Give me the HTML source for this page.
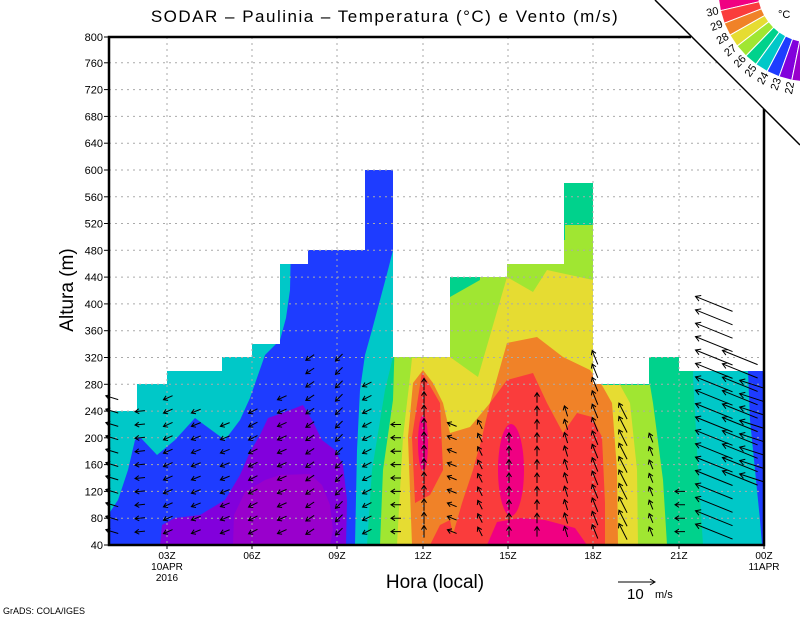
<!DOCTYPE html>
<html><head><meta charset="utf-8"><style>
html,body{margin:0;padding:0;background:#fff;}
svg{display:block;font-family:"Liberation Sans",sans-serif;}
</style></head><body>
<svg width="800" height="618" viewBox="0 0 800 618" xmlns="http://www.w3.org/2000/svg" xmlns:xlink="http://www.w3.org/1999/xlink">
<defs>
<path id="k0" transform="rotate(-163)" d="M-6.5,0H6.5M2.5,-2.5L6.5,0L2.5,2.5"/>
<path id="k1" transform="rotate(174)" d="M-5,0H5M1,-2.5L5,0L1,2.5"/>
<path id="k2" transform="rotate(156)" d="M-5,0H5M1,-2.5L5,0L1,2.5"/>
<path id="k3" transform="rotate(158)" d="M-5,0H5M1,-2.5L5,0L1,2.5"/>
<path id="k5" transform="rotate(153)" d="M-5,0H5M1,-2.5L5,0L1,2.5"/>
<path id="k7" transform="rotate(146)" d="M-5,0H5M1,-2.5L5,0L1,2.5"/>
<path id="k8" transform="rotate(135)" d="M-5,0H5M1,-2.5L5,0L1,2.5"/>
<path id="k10" transform="rotate(180)" d="M-5,0H5M1,-2.5L5,0L1,2.5"/>
<path id="k11" transform="rotate(-90)" d="M-6,0H6M2,-2.5L6,0L2,2.5"/>
<path id="k12" transform="rotate(-158)" d="M-5,0H5M1,-2.5L5,0L1,2.5"/>
<path id="k13" transform="rotate(-117)" d="M-5,0H5M1,-2.5L5,0L1,2.5"/>
<path id="k14" transform="rotate(-90)" d="M-5,0H5M1,-2.5L5,0L1,2.5"/>
<path id="k16" transform="rotate(-107)" d="M-5.5,0H5.5M1.5,-2.5L5.5,0L1.5,2.5"/>
<path id="k17" transform="rotate(-112)" d="M-7.5,0H7.5M3.5,-2.5L7.5,0L3.5,2.5"/>
<path id="k18" transform="rotate(-117)" d="M-9,0H9M5,-2.5L9,0L5,2.5"/>
<path id="k19" transform="rotate(-112)" d="M-5,0H5M1,-2.5L5,0L1,2.5"/>
<path id="k21" transform="rotate(-158)" d="M-20,0H20M15,-3L20,0L15,3"/>
<path id="k22" transform="rotate(-158)" d="M-19,0H19M14,-3L19,0L14,3"/>
<path id="k23" transform="rotate(-162)" d="M-13,0H13M8,-3L13,0L8,3"/>
</defs>
<rect width="800" height="618" fill="#fff"/>
<rect x="108" y="36" width="656" height="509" fill="#00c8c8"/>
<polygon fill="#1e3cff" points="108,545 108,515 118,500 128,470 135,440 140,437 157,455 175,440 195,418 225,440 240,420 250,398 258,375 265,355 280,340 286,318 290,290 293,150 393,150 393,250 388,270 380,300 372,330 365,355 360,390 357,450 355,545"/>
<polygon fill="#8200dc" points="160,545 162,525 175,518 200,515 225,500 240,475 250,452 260,435 268,418 285,412 303,405 312,420 322,440 335,450 343,465 347,500 346,545"/>
<polygon fill="#9900cc" points="233,545 234,515 245,492 265,480 280,475 310,474 322,485 330,505 333,530 330,545"/>
<polygon fill="#00d28c" points="367,545 372,470 385,390 393,357 393,150 700,150 693,377 697,450 703,545"/>
<polygon fill="#a0e632" points="380,545 383,470 393,400 396,300 450,297 480,280 480,240 565,240 565,225 593,225 593,385 650,385 653,403 663,480 667,545"/>
<polygon fill="#e6dc32" points="397,545 403,437 410,377 412,358 450,357 478,377 507,277 533,292 547,270 593,280 593,385 620,385 630,403 637,470 638,545"/>
<polygon fill="#f08228" points="412,545 408,437 413,383 423,370 433,383 443,403 450,433 470,427 490,403 507,343 537,337 563,357 590,370 603,387 612,403 617,470 618,545"/>
<polygon fill="#fa3c3c" points="412,437 422,372 440,403 443,470 430,495 415,503"/>
<polygon fill="#fa3c3c" points="450,545 462,503 473,470 482,437 490,403 507,380 533,373 547,403 563,433 577,413 592,417 602,437 605,503 605,545"/>
<polygon fill="#fa3c3c" points="430,545 440,525 450,520 455,545"/>
<ellipse cx="423" cy="443" rx="5" ry="28" fill="#f00082"/>
<ellipse cx="511" cy="470" rx="13" ry="46" fill="#f00082"/>
<polygon fill="#f00082" points="487,545 497,522 520,518 545,520 575,528 587,545"/>
<polygon fill="#1e3cff" points="748,371 764,371 764,545 762,545 760,520 755,470 750,420"/>
<path fill="#fff" d="M108,36 L108,411 L137,411 L137,384 L167,384 L167,371 L222,371 L222,357 L252,357 L252,344 L280,344 L280,264 L308,264 L308,250 L365,250 L365,170 L393,170 L393,357 L450,357 L450,277 L507,277 L507,264 L564,264 L564,183 L593,183 L593,384 L649,384 L649,357 L679,357 L679,371 L764,371 L764,36 Z"/>
<g stroke="#aaa" stroke-width="1" stroke-dasharray="2,4">
<line x1="109" y1="518.2" x2="764" y2="518.2"/><line x1="109" y1="491.4" x2="764" y2="491.4"/>
<line x1="109" y1="464.6" x2="764" y2="464.6"/><line x1="109" y1="437.8" x2="764" y2="437.8"/>
<line x1="109" y1="411.1" x2="764" y2="411.1"/><line x1="109" y1="384.3" x2="764" y2="384.3"/>
<line x1="109" y1="357.5" x2="764" y2="357.5"/><line x1="109" y1="330.7" x2="764" y2="330.7"/>
<line x1="109" y1="303.9" x2="764" y2="303.9"/><line x1="109" y1="277.1" x2="764" y2="277.1"/>
<line x1="109" y1="250.3" x2="764" y2="250.3"/><line x1="109" y1="223.5" x2="764" y2="223.5"/>
<line x1="109" y1="196.8" x2="764" y2="196.8"/><line x1="109" y1="170" x2="764" y2="170"/>
<line x1="109" y1="143.2" x2="764" y2="143.2"/><line x1="109" y1="116.4" x2="764" y2="116.4"/>
<line x1="109" y1="89.6" x2="744.6" y2="89.6"/><line x1="109" y1="62.8" x2="717.8" y2="62.8"/>
<line x1="167" y1="37" x2="167" y2="545"/><line x1="252" y1="37" x2="252" y2="545"/>
<line x1="337" y1="37" x2="337" y2="545"/><line x1="423" y1="37" x2="423" y2="545"/>
<line x1="508" y1="37" x2="508" y2="545"/><line x1="593" y1="37" x2="593" y2="545"/>
<line x1="679" y1="37" x2="679" y2="545"/>
</g>
<g stroke="#000" stroke-width="1" fill="none">
<g transform="translate(112,0)"><use href="#k0" y="531.6"/><use href="#k0" y="518.2"/><use href="#k0" y="504.8"/><use href="#k0" y="491.4"/><use href="#k0" y="478"/><use href="#k0" y="464.6"/><use href="#k0" y="451.2"/><use href="#k0" y="437.8"/><use href="#k0" y="424.5"/><use href="#k0" y="411.1"/><use href="#k0" y="397.7"/></g>
<g transform="translate(140,0)"><use href="#k1" y="531.6"/><use href="#k1" y="518.2"/><use href="#k1" y="504.8"/><use href="#k1" y="491.4"/><use href="#k1" y="478"/><use href="#k1" y="464.6"/><use href="#k1" y="451.2"/><use href="#k1" y="437.8"/><use href="#k1" y="424.5"/><use href="#k1" y="411.1"/></g>
<g transform="translate(168,0)"><use href="#k2" y="531.6"/><use href="#k2" y="518.2"/><use href="#k2" y="504.8"/><use href="#k2" y="491.4"/><use href="#k2" y="478"/><use href="#k2" y="464.6"/><use href="#k2" y="451.2"/><use href="#k2" y="437.8"/><use href="#k2" y="424.5"/><use href="#k2" y="411.1"/><use href="#k2" y="397.7"/></g>
<g transform="translate(196,0)"><use href="#k3" y="531.6"/><use href="#k3" y="518.2"/><use href="#k3" y="504.8"/><use href="#k3" y="491.4"/><use href="#k3" y="478"/><use href="#k3" y="464.6"/><use href="#k3" y="451.2"/><use href="#k3" y="437.8"/><use href="#k3" y="424.5"/><use href="#k3" y="411.1"/></g>
<g transform="translate(225,0)"><use href="#k3" y="531.6"/><use href="#k3" y="518.2"/><use href="#k3" y="504.8"/><use href="#k3" y="491.4"/><use href="#k3" y="478"/><use href="#k3" y="464.6"/><use href="#k3" y="451.2"/><use href="#k3" y="437.8"/><use href="#k3" y="424.5"/></g>
<g transform="translate(253,0)"><use href="#k5" y="531.6"/><use href="#k5" y="518.2"/><use href="#k5" y="504.8"/><use href="#k5" y="491.4"/><use href="#k5" y="478"/><use href="#k5" y="464.6"/><use href="#k5" y="451.2"/><use href="#k5" y="437.8"/><use href="#k5" y="424.5"/><use href="#k5" y="411.1"/></g>
<g transform="translate(282,0)"><use href="#k2" y="531.6"/><use href="#k2" y="518.2"/><use href="#k2" y="504.8"/><use href="#k2" y="491.4"/><use href="#k2" y="478"/><use href="#k2" y="464.6"/><use href="#k2" y="451.2"/><use href="#k2" y="437.8"/><use href="#k2" y="424.5"/><use href="#k2" y="411.1"/><use href="#k2" y="397.7"/></g>
<g transform="translate(310,0)"><use href="#k7" y="531.6"/><use href="#k7" y="518.2"/><use href="#k7" y="504.8"/><use href="#k7" y="491.4"/><use href="#k7" y="478"/><use href="#k7" y="464.6"/><use href="#k7" y="451.2"/><use href="#k7" y="437.8"/><use href="#k7" y="424.5"/><use href="#k7" y="411.1"/><use href="#k7" y="397.7"/><use href="#k7" y="384.3"/><use href="#k7" y="370.9"/><use href="#k7" y="357.5"/></g>
<g transform="translate(339,0)"><use href="#k8" y="531.6"/><use href="#k8" y="518.2"/><use href="#k8" y="504.8"/><use href="#k8" y="491.4"/><use href="#k8" y="478"/><use href="#k8" y="464.6"/><use href="#k8" y="451.2"/><use href="#k8" y="437.8"/><use href="#k8" y="424.5"/><use href="#k8" y="411.1"/><use href="#k8" y="397.7"/><use href="#k8" y="384.3"/><use href="#k8" y="370.9"/><use href="#k8" y="357.5"/></g>
<g transform="translate(367,0)"><use href="#k5" y="531.6"/><use href="#k5" y="518.2"/><use href="#k5" y="504.8"/><use href="#k5" y="491.4"/><use href="#k5" y="478"/><use href="#k5" y="464.6"/><use href="#k5" y="451.2"/><use href="#k5" y="437.8"/><use href="#k5" y="424.5"/><use href="#k5" y="411.1"/><use href="#k5" y="397.7"/><use href="#k5" y="384.3"/></g>
<g transform="translate(396,0)"><use href="#k10" y="531.6"/><use href="#k10" y="518.2"/><use href="#k10" y="504.8"/><use href="#k10" y="491.4"/><use href="#k10" y="478"/><use href="#k10" y="464.6"/><use href="#k10" y="451.2"/><use href="#k10" y="437.8"/><use href="#k10" y="424.5"/></g>
<g transform="translate(424,0)"><use href="#k11" y="531.6"/><use href="#k11" y="518.2"/><use href="#k11" y="504.8"/><use href="#k11" y="491.4"/><use href="#k11" y="478"/><use href="#k11" y="464.6"/><use href="#k11" y="451.2"/><use href="#k11" y="437.8"/><use href="#k11" y="424.5"/><use href="#k11" y="411.1"/><use href="#k11" y="397.7"/><use href="#k11" y="384.3"/></g>
<g transform="translate(452,0)"><use href="#k12" y="531.6"/><use href="#k12" y="518.2"/><use href="#k12" y="504.8"/><use href="#k12" y="491.4"/><use href="#k12" y="478"/><use href="#k12" y="464.6"/><use href="#k12" y="451.2"/><use href="#k12" y="437.8"/><use href="#k12" y="424.5"/></g>
<g transform="translate(480,0)"><use href="#k13" y="531.6"/><use href="#k13" y="518.2"/><use href="#k13" y="504.8"/><use href="#k13" y="491.4"/><use href="#k13" y="478"/><use href="#k13" y="464.6"/><use href="#k13" y="451.2"/><use href="#k13" y="437.8"/><use href="#k13" y="424.5"/></g>
<g transform="translate(509,0)"><use href="#k14" y="531.6"/><use href="#k14" y="518.2"/><use href="#k14" y="504.8"/><use href="#k14" y="491.4"/><use href="#k14" y="478"/><use href="#k14" y="464.6"/><use href="#k14" y="451.2"/><use href="#k14" y="437.8"/></g>
<g transform="translate(537,0)"><use href="#k14" y="531.6"/><use href="#k14" y="518.2"/><use href="#k14" y="504.8"/><use href="#k14" y="491.4"/><use href="#k14" y="478"/><use href="#k14" y="464.6"/><use href="#k14" y="451.2"/><use href="#k14" y="437.8"/><use href="#k14" y="424.5"/><use href="#k14" y="411.1"/><use href="#k14" y="397.7"/></g>
<g transform="translate(566,0)"><use href="#k16" y="531.6"/><use href="#k16" y="518.2"/><use href="#k16" y="504.8"/><use href="#k16" y="491.4"/><use href="#k16" y="478"/><use href="#k16" y="464.6"/><use href="#k16" y="451.2"/><use href="#k16" y="437.8"/><use href="#k16" y="424.5"/><use href="#k16" y="411.1"/></g>
<g transform="translate(595,0)"><use href="#k17" y="531.6"/><use href="#k17" y="518.2"/><use href="#k17" y="504.8"/><use href="#k17" y="491.4"/><use href="#k17" y="478"/><use href="#k17" y="464.6"/><use href="#k17" y="451.2"/><use href="#k17" y="437.8"/><use href="#k17" y="424.5"/><use href="#k17" y="411.1"/><use href="#k17" y="397.7"/><use href="#k17" y="384.3"/><use href="#k17" y="370.9"/><use href="#k17" y="357.5"/></g>
<g transform="translate(623,0)"><use href="#k18" y="531.6"/><use href="#k18" y="518.2"/><use href="#k18" y="504.8"/><use href="#k18" y="491.4"/><use href="#k18" y="478"/><use href="#k18" y="464.6"/><use href="#k18" y="451.2"/><use href="#k18" y="437.8"/><use href="#k18" y="424.5"/><use href="#k18" y="411.1"/></g>
<g transform="translate(651,0)"><use href="#k19" y="531.6"/><use href="#k19" y="518.2"/><use href="#k19" y="504.8"/><use href="#k19" y="491.4"/><use href="#k19" y="478"/><use href="#k19" y="464.6"/><use href="#k19" y="451.2"/><use href="#k19" y="437.8"/></g>
<g transform="translate(680,0)"><use href="#k10" y="531.6"/><use href="#k10" y="518.2"/><use href="#k10" y="504.8"/><use href="#k10" y="491.4"/></g>
<g transform="translate(714,0)"><use href="#k21" y="531.6"/><use href="#k21" y="518.2"/><use href="#k21" y="504.8"/><use href="#k21" y="491.4"/><use href="#k21" y="478"/><use href="#k21" y="464.6"/><use href="#k21" y="451.2"/><use href="#k21" y="437.8"/><use href="#k21" y="424.5"/><use href="#k21" y="411.1"/><use href="#k21" y="397.7"/><use href="#k21" y="384.3"/><use href="#k21" y="370.9"/><use href="#k21" y="357.5"/><use href="#k21" y="344.1"/><use href="#k21" y="330.7"/><use href="#k21" y="317.3"/><use href="#k21" y="303.9"/></g>
<g transform="translate(740,0)"><use href="#k22" y="478"/><use href="#k22" y="464.6"/><use href="#k22" y="451.2"/><use href="#k22" y="437.8"/><use href="#k22" y="424.5"/><use href="#k22" y="411.1"/><use href="#k22" y="397.7"/><use href="#k22" y="384.3"/><use href="#k22" y="370.9"/><use href="#k22" y="357.5"/></g>
<g transform="translate(752,0)"><use href="#k23" y="478"/><use href="#k23" y="464.6"/><use href="#k23" y="451.2"/><use href="#k23" y="437.8"/><use href="#k23" y="424.5"/><use href="#k23" y="411.1"/><use href="#k23" y="397.7"/><use href="#k23" y="384.3"/></g>
</g>
<polygon fill="#fff" points="655,0 800,0 800,145"/>
<line x1="655" y1="0" x2="800" y2="145" stroke="#000" stroke-width="1.5"/>
<path d="M691,37 L109,37 L109,545 L764,545 L764,109" fill="none" stroke="#000" stroke-width="2.5"/>
<g stroke="#000" stroke-width="1">
<line x1="104" y1="545" x2="109" y2="545"/><line x1="104" y1="518.2" x2="109" y2="518.2"/><line x1="104" y1="491.4" x2="109" y2="491.4"/><line x1="104" y1="464.6" x2="109" y2="464.6"/><line x1="104" y1="437.8" x2="109" y2="437.8"/><line x1="104" y1="411.1" x2="109" y2="411.1"/><line x1="104" y1="384.3" x2="109" y2="384.3"/><line x1="104" y1="357.5" x2="109" y2="357.5"/><line x1="104" y1="330.7" x2="109" y2="330.7"/><line x1="104" y1="303.9" x2="109" y2="303.9"/><line x1="104" y1="277.1" x2="109" y2="277.1"/><line x1="104" y1="250.3" x2="109" y2="250.3"/><line x1="104" y1="223.5" x2="109" y2="223.5"/><line x1="104" y1="196.8" x2="109" y2="196.8"/><line x1="104" y1="170" x2="109" y2="170"/><line x1="104" y1="143.2" x2="109" y2="143.2"/><line x1="104" y1="116.4" x2="109" y2="116.4"/><line x1="104" y1="89.6" x2="109" y2="89.6"/><line x1="104" y1="62.8" x2="109" y2="62.8"/><line x1="104" y1="37" x2="109" y2="37"/>
<line x1="167" y1="545" x2="167" y2="549"/><line x1="252" y1="545" x2="252" y2="549"/><line x1="337" y1="545" x2="337" y2="549"/><line x1="423" y1="545" x2="423" y2="549"/><line x1="508" y1="545" x2="508" y2="549"/><line x1="593" y1="545" x2="593" y2="549"/><line x1="679" y1="545" x2="679" y2="549"/><line x1="764" y1="545" x2="764" y2="549"/>
</g>
<g font-size="11" text-anchor="end" fill="#000">
<text x="103" y="549">40</text><text x="103" y="522.2">80</text><text x="103" y="495.4">120</text><text x="103" y="468.6">160</text><text x="103" y="441.8">200</text><text x="103" y="415.1">240</text><text x="103" y="388.3">280</text><text x="103" y="361.5">320</text><text x="103" y="334.7">360</text><text x="103" y="307.9">400</text><text x="103" y="281.1">440</text><text x="103" y="254.3">480</text><text x="103" y="227.5">520</text><text x="103" y="200.8">560</text><text x="103" y="174">600</text><text x="103" y="147.2">640</text><text x="103" y="120.4">680</text><text x="103" y="93.6">720</text><text x="103" y="66.8">760</text><text x="103" y="41">800</text>
</g>
<g font-size="10" text-anchor="middle" fill="#000">
<text x="167" y="559">03Z</text><text x="167" y="570">10APR</text><text x="167" y="581">2016</text>
<text x="252" y="559">06Z</text><text x="337" y="559">09Z</text><text x="423" y="559">12Z</text>
<text x="508" y="559">15Z</text><text x="593" y="559">18Z</text><text x="679" y="559">21Z</text>
<text x="764" y="559">00Z</text><text x="764" y="570">11APR</text>
</g>
<text x="385" y="22" font-size="17" text-anchor="middle" letter-spacing="1.5">SODAR – Paulinia – Temperatura (°C) e Vento (m/s)</text>
<text x="435" y="588" font-size="19" text-anchor="middle">Hora (local)</text>
<text transform="translate(73,290) rotate(-90)" font-size="19" text-anchor="middle">Altura (m)</text>
<line x1="618" y1="582" x2="655" y2="582" stroke="#000"/>
<path d="M650,579 L655,582 L650,585" stroke="#000" fill="none"/>
<text x="627" y="599" font-size="15">10</text><text x="655" y="598" font-size="11">m/s</text>
<text x="3" y="614" font-size="9">GrADS: COLA/IGES</text>
<g stroke="#fff" stroke-width="1">
<polygon fill="#f00082" points="758.2,-5.6 718.3,-2.3 720.4,10.7 759.3,1.7"/>
<polygon fill="#fa3c3c" points="759.3,1.7 720.4,10.7 724.2,23.3 761.5,8.8"/>
<polygon fill="#f08228" points="761.5,8.8 724.2,23.3 729.9,35.2 764.7,15.5"/>
<polygon fill="#e6dc32" points="764.7,15.5 729.9,35.2 737.1,46.1 768.8,21.7"/>
<polygon fill="#a0e632" points="768.8,21.7 737.1,46.1 745.9,56 773.7,27.3"/>
<polygon fill="#00d28c" points="773.7,27.3 745.9,56 755.9,64.4 779.4,32.1"/>
<polygon fill="#00c8c8" points="779.4,32.1 755.9,64.4 767.1,71.4 785.7,36"/>
<polygon fill="#1e3cff" points="785.7,36 767.1,71.4 779.1,76.7 792.6,39"/>
<polygon fill="#8200dc" points="792.6,39 779.1,76.7 791.8,80.2 799.7,41"/>
<polygon fill="#9900cc" points="799.7,41 791.8,80.2 804.9,81.9 807.1,41.9"/>
</g>
<g font-size="11" text-anchor="middle" dominant-baseline="middle">
<text x="712.6" y="12.5" transform="rotate(-13 712.6 12.5)">30</text>
<text x="716.8" y="26.2" transform="rotate(-21.2 716.8 26.2)">29</text>
<text x="722.9" y="39.1" transform="rotate(-29.4 722.9 39.1)">28</text>
<text x="730.8" y="51" transform="rotate(-37.6 730.8 51)">27</text>
<text x="740.3" y="61.7" transform="rotate(-45.8 740.3 61.7)">26</text>
<text x="751.2" y="70.9" transform="rotate(-54 751.2 70.9)">25</text>
<text x="763.4" y="78.5" transform="rotate(-62.2 763.4 78.5)">24</text>
<text x="776.5" y="84.2" transform="rotate(-70.4 776.5 84.2)">23</text>
<text x="790.2" y="88" transform="rotate(-78.6 790.2 88)">22</text>
</g>
<text x="778" y="18" font-size="11">°C</text>
</svg>
</body></html>
